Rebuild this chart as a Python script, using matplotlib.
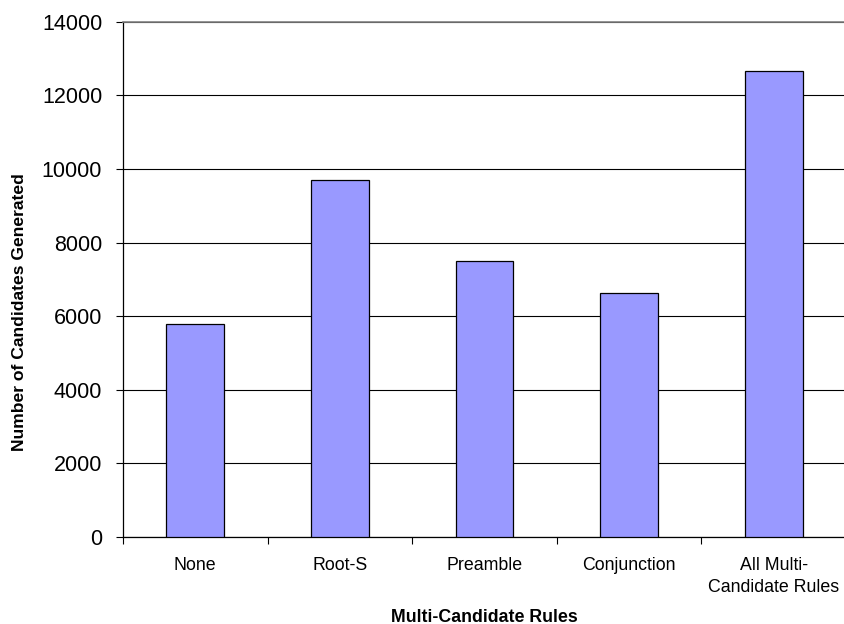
import matplotlib
matplotlib.use("Agg")
import matplotlib.pyplot as plt
import numpy as np

categories = ["None", "Root-S", "Preamble", "Conjunction", "All Multi-\nCandidate Rules"]
candidates = [5780, 9700, 7490, 6620, 12670]
y_ticks = [0, 2000, 4000, 6000, 8000, 10000, 12000, 14000]

plt.rcParams["font.family"] = ["Liberation Sans", "DejaVu Sans"]

fig = plt.figure(figsize=(8.44, 6.24), dpi=100)
ax = fig.add_axes([123 / 844, 87 / 624, 723 / 844, 515.3 / 624])

x = np.arange(len(categories))
ax.bar(x, candidates, width=0.4, color="#9999FF", edgecolor="black",
       linewidth=0.9, zorder=3)

ax.set_xlim(-0.5, len(categories) - 0.5)
ax.set_ylim(0, 14000)
ax.set_yticks(y_ticks)
ax.set_yticklabels([str(v) for v in y_ticks], fontsize=15.5)
ax.yaxis.grid(True, color="black", linewidth=0.8, zorder=0)
ax.set_axisbelow(True)

# category boundaries carry the tick marks, labels sit at bar centres
ax.set_xticks(np.arange(-0.5, len(categories), 1.0))
ax.set_xticklabels([])
ax.set_xticks(x, minor=True)
ax.set_xticklabels(categories, minor=True, fontsize=12.8, linespacing=1.35)
ax.tick_params(axis="x", which="minor", length=0, pad=14.5)
ax.tick_params(axis="x", which="major", length=5, width=0.8, direction="out")
ax.tick_params(axis="y", length=5, width=0.8, direction="out", pad=10)

for side in ("left", "bottom"):
    ax.spines[side].set_color("black")
    ax.spines[side].set_linewidth(0.9)
ax.spines["top"].set_color("#808080")
ax.spines["top"].set_linewidth(1.2)
ax.spines["right"].set_color("#808080")

fig.text(484.5 / 844, 2.5 / 624, "Multi-Candidate Rules", ha="center",
         va="baseline", fontsize=12.8, fontweight="bold")
fig.text(20 / 844, 0.5, "Number of Candidates Generated", ha="center",
         va="center", rotation=90, fontsize=12.6, fontweight="bold")

fig.savefig("out.png", dpi=100)
